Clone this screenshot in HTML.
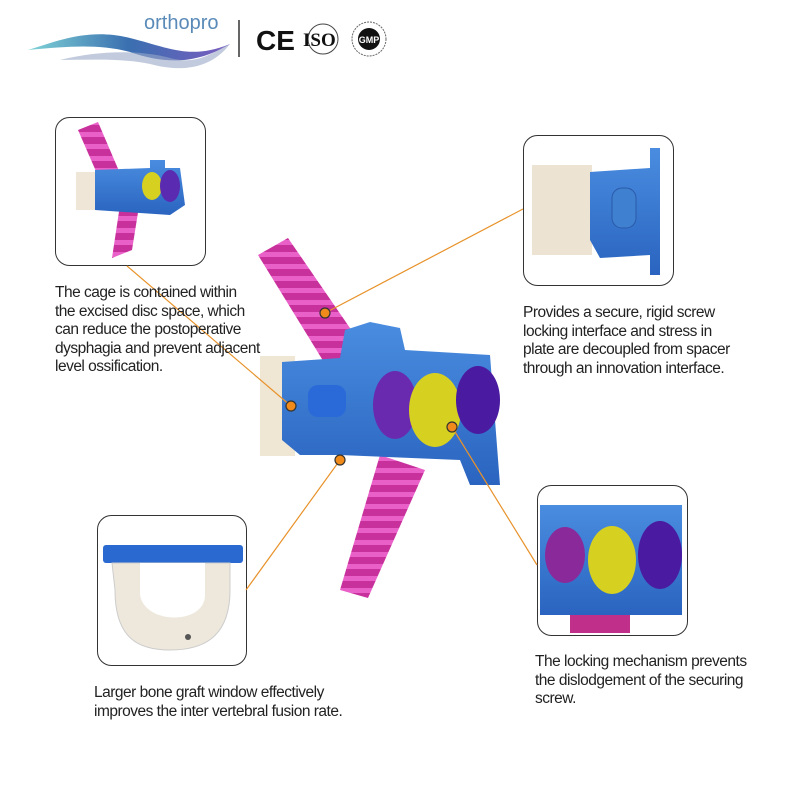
<!DOCTYPE html>
<html><head><meta charset="utf-8"><style>
html,body{margin:0;padding:0;background:#fff;}
body{width:800px;height:800px;position:relative;overflow:hidden;font-family:"Liberation Sans",sans-serif;}
.t{position:absolute;font-size:15.5px;line-height:18.5px;color:#222;letter-spacing:-0.5px;}
</style></head><body>
<svg width="800" height="800" style="position:absolute;left:0;top:0">
<defs>
<linearGradient id="w" x1="0" x2="1"><stop offset="0" stop-color="#7fd3d6"/><stop offset="0.5" stop-color="#3a6fb0"/><stop offset="1" stop-color="#7b5cc0"/></linearGradient>
<linearGradient id="pk" x1="0" x2="1"><stop offset="0" stop-color="#8a1a78"/><stop offset="0.5" stop-color="#e040c0"/><stop offset="1" stop-color="#9a2090"/></linearGradient>
<linearGradient id="bl" x1="0" x2="0" y1="0" y2="1"><stop offset="0" stop-color="#4a8de0"/><stop offset="1" stop-color="#2a64c0"/></linearGradient>
<pattern id="th" width="12" height="12" patternUnits="userSpaceOnUse"><rect width="12" height="12" fill="#c8309c"/><rect width="12" height="5" fill="#e860c8"/></pattern>
</defs>
<!-- logo -->
<path d="M28 50 C60 40 90 28 130 38 C170 48 190 60 230 44 C200 62 170 66 130 52 C100 44 70 46 28 50Z" fill="url(#w)"/>
<path d="M60 60 C100 50 140 50 170 58 C200 66 215 50 230 44 C210 70 180 72 150 64 C120 58 90 60 60 60Z" fill="#9aa8c8" opacity="0.6"/>
<text x="144" y="29" font-family="Liberation Sans" font-size="20" fill="#5a8ab8">orthopro</text>
<line x1="239" y1="20" x2="239" y2="57" stroke="#333" stroke-width="1.5"/>
<text x="256" y="50" font-family="Liberation Sans" font-weight="bold" font-size="28" fill="#111">CE</text>
<circle cx="323" cy="39" r="15" fill="none" stroke="#444" stroke-width="1"/>
<text x="303" y="46" font-family="Liberation Serif" font-weight="bold" font-size="19" fill="#111">ISO</text>
<circle cx="369" cy="39" r="17" fill="none" stroke="#666" stroke-width="1" stroke-dasharray="2 1"/>
<circle cx="369" cy="39" r="11" fill="#111"/>
<text x="369" y="43" text-anchor="middle" font-family="Liberation Sans" font-weight="bold" font-size="9" fill="#fff">GMP</text>
<!-- boxes -->
<rect x="55.5" y="117.5" width="150" height="148" rx="14" fill="#fff" stroke="#333"/>
<rect x="523.5" y="135.5" width="150" height="150" rx="14" fill="#fff" stroke="#333"/>
<rect x="97.5" y="515.5" width="149" height="150" rx="14" fill="#fff" stroke="#333"/>
<rect x="537.5" y="485.5" width="150" height="150" rx="14" fill="#fff" stroke="#333"/>
<!-- box1 thumb -->
<path d="M78 130 L98 122 L125 185 L105 192Z" fill="url(#th)"/>
<path d="M120 205 L140 200 L132 250 L112 258Z" fill="url(#th)"/>
<rect x="76" y="172" width="30" height="38" fill="#efe6d8"/>
<path d="M95 170 L150 168 L150 160 L165 160 L165 168 L180 168 L185 205 L170 215 L95 210Z" fill="url(#bl)"/>
<ellipse cx="152" cy="186" rx="10" ry="14" fill="#d6d020"/>
<ellipse cx="170" cy="186" rx="10" ry="16" fill="#5a2ab0"/>
<!-- box2 thumb -->
<rect x="532" y="165" width="60" height="90" fill="#ece3d2"/>
<path d="M590 172 L650 168 L650 148 L660 148 L660 275 L650 275 L650 255 L600 258 L590 240Z" fill="url(#bl)"/>
<rect x="612" y="188" width="24" height="40" rx="10" fill="#3f80d0" stroke="#2a5aa8"/>
<!-- box3 thumb -->
<rect x="103" y="545" width="140" height="18" rx="3" fill="#2a6ad0"/>
<path d="M112 563 L230 563 L230 590 C230 640 200 650 170 650 C140 650 115 640 115 590Z" fill="#eee8dc" stroke="#ccc"/>
<path d="M140 563 L205 563 L205 595 C205 625 145 625 140 595Z" fill="#fff"/>
<circle cx="188" cy="637" r="3" fill="#555"/>
<!-- box4 thumb -->
<rect x="540" y="505" width="142" height="110" fill="url(#bl)"/>
<ellipse cx="565" cy="555" rx="20" ry="28" fill="#8a2a9a"/>
<ellipse cx="612" cy="560" rx="24" ry="34" fill="#d6d020"/>
<ellipse cx="660" cy="555" rx="22" ry="34" fill="#4a1aa0"/>
<rect x="570" y="615" width="60" height="18" fill="#c0308a"/>
<!-- main product -->
<path d="M258 255 L288 238 L372 360 L338 385Z" fill="url(#th)"/>
<path d="M380 455 L425 470 L368 598 L340 590Z" fill="url(#th)"/>
<rect x="260" y="356" width="35" height="100" fill="#efe6d4"/>
<path d="M282 362 L340 358 L345 330 L370 322 L400 328 L405 350 L490 355 L500 485 L470 485 L460 460 L340 455 L300 455 L282 440Z" fill="url(#bl)"/>
<rect x="308" y="385" width="38" height="32" rx="10" fill="#2a6ad8"/>
<ellipse cx="395" cy="405" rx="22" ry="34" fill="#6a2ab0"/>
<ellipse cx="435" cy="410" rx="26" ry="37" fill="#d6d020"/>
<ellipse cx="478" cy="400" rx="22" ry="34" fill="#4a1aa0"/>
<!-- connectors -->
<g stroke="#e8922a" stroke-width="1.2" fill="none">
<line x1="127" y1="266" x2="291" y2="406"/>
<line x1="523" y1="209" x2="325" y2="313"/>
<line x1="246" y1="590" x2="340" y2="460"/>
<line x1="452" y1="427" x2="537" y2="565"/>
</g>
<g fill="#f08a1a" stroke="#333" stroke-width="1.2">
<circle cx="325" cy="313" r="5"/><circle cx="291" cy="406" r="5"/><circle cx="340" cy="460" r="5"/><circle cx="452" cy="427" r="5"/>
</g>
</svg>
<div class="t" style="left:55px;top:284px;">The cage is contained within<br>the excised disc space, which<br>can reduce the postoperative<br>dysphagia and prevent adjacent<br>level ossification.</div>
<div class="t" style="left:523px;top:304px;">Provides a secure, rigid screw<br>locking interface and stress in<br>plate are decoupled from spacer<br>through an innovation interface.</div>
<div class="t" style="left:94px;top:684px;">Larger bone graft window effectively<br>improves the inter vertebral fusion rate.</div>
<div class="t" style="left:535px;top:653px;">The locking mechanism prevents<br>the dislodgement of the securing<br>screw.</div>
</body></html>
